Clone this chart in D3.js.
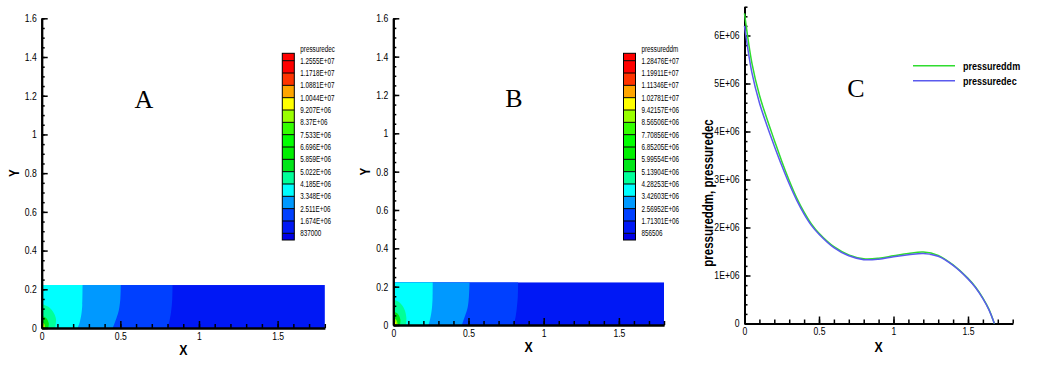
<!DOCTYPE html>
<html lang="en">
<head>
<meta charset="UTF-8">
<title>Pressure contours and profiles</title>
<style>
  body { margin: 0; background: #fff; }
  svg text { font-family: "Liberation Sans", Arial, sans-serif; fill: #000; }
  .axis path { stroke: #000; stroke-width: 2; fill: none; }
  .axis line { stroke: #000; stroke-width: 1.5; }
  .axis text { font-size: 10.5px; }
  .title { font-weight: bold; }
  .letter { font-family: "Liberation Serif", "DejaVu Serif", serif !important; font-size: 26px; }
  .legend text { font-size: 8.5px; }
  .curve { fill: none; stroke-width: 1.5; }
</style>
<script src="https://d3js.org/d3.v7.min.js"></script>
</head>
<body>
<script>
// ---- data ----
const levelsDec = ["1.2555E+07", "1.1718E+07", "1.0881E+07", "1.0044E+07", "9.207E+06", "8.37E+06",
  "7.533E+06", "6.696E+06", "5.859E+06", "5.022E+06", "4.185E+06", "3.348E+06", "2.511E+06",
  "1.674E+06", "837000"];
const levelsDdm = ["1.28476E+07", "1.19911E+07", "1.11346E+07", "1.02781E+07", "9.42157E+06",
  "8.56506E+06", "7.70856E+06", "6.85205E+06", "5.99554E+06", "5.13904E+06", "4.28253E+06",
  "3.42603E+06", "2.56952E+06", "1.71301E+06", "856506"];
// one colour per band, top (highest) to bottom
const bandColors = ["#ff0000", "#ff0000", "#ff3300", "#ffa500", "#ffff00", "#99ff00", "#33ff00",
  "#00ff00", "#00f000", "#00e619", "#00ff99", "#00ffff", "#0099ff", "#0040ff", "#0018f5", "#0000e6"];

// contour boundaries, [x, y] in plot units
const contoursA = [
  { band: 13, pts: [[0.832, 0.222], [0.83, 0.15], [0.822, 0.08], [0.81, 0.03], [0.796, 0]] },
  { band: 12, pts: [[0.503, 0.222], [0.5, 0.15], [0.49, 0.09], [0.475, 0.05], [0.452, 0]] },
  { band: 11, pts: [[0.26, 0.222], [0.258, 0.12], [0.252, 0.07], [0.24, 0.025], [0.228, 0]] },
  { band: 10, pts: [[0, 0.124], [0.045, 0.108], [0.075, 0.08], [0.091, 0.045], [0.085, 0]] },
  { band: 9, pts: [[0, 0.062], [0.028, 0.052], [0.045, 0.024], [0.042, 0]] },
  { band: 5, pts: [[0, 0.03], [0.016, 0.022], [0.022, 0]] },
  { band: 4, pts: [[0, 0.02], [0.012, 0.014], [0.015, 0]] },
  { band: 1, pts: [[0, 0.008], [0.006, 0.005], [0.007, 0]] }
];
const contoursB = [
  { band: 13, pts: [[0.83, 0.222], [0.828, 0.15], [0.82, 0.08], [0.81, 0.03], [0.8, 0]] },
  { band: 12, pts: [[0.507, 0.222], [0.503, 0.15], [0.494, 0.09], [0.478, 0.05], [0.456, 0]] },
  { band: 11, pts: [[0.262, 0.222], [0.26, 0.12], [0.254, 0.07], [0.243, 0.025], [0.233, 0]] },
  { band: 10, pts: [[0, 0.134], [0.045, 0.115], [0.075, 0.08], [0.087, 0.036], [0.083, 0]] },
  { band: 9, pts: [[0, 0.07], [0.03, 0.058], [0.047, 0.03], [0.045, 0]] },
  { band: 5, pts: [[0, 0.035], [0.02, 0.026], [0.03, 0]] },
  { band: 4, pts: [[0, 0.022], [0.014, 0.016], [0.018, 0]] },
  { band: 1, pts: [[0, 0.008], [0.006, 0.005], [0.007, 0]] }
];

// pressure along X (panel C)
const profileX = [0, 0.05, 0.1, 0.15, 0.2, 0.25, 0.3, 0.35, 0.4, 0.45, 0.5, 0.6, 0.7, 0.8, 0.9,
  1.0, 1.1, 1.2, 1.3, 1.4, 1.5, 1.55, 1.6, 1.64, 1.677];
const pressureDdm = [6.46e6, 5.42e6, 4.76e6, 4.27e6, 3.82e6, 3.38e6, 2.98e6, 2.62e6, 2.32e6, 2.07e6,
  1.88e6, 1.60e6, 1.43e6, 1.35e6, 1.36e6, 1.41e6, 1.46e6, 1.49e6, 1.42e6, 1.22e6, 0.94e6, 0.76e6,
  0.53e6, 0.3e6, 0];
const pressureDec = [6.2e6, 5.22e6, 4.6e6, 4.13e6, 3.7e6, 3.29e6, 2.91e6, 2.57e6, 2.28e6, 2.04e6,
  1.86e6, 1.58e6, 1.41e6, 1.33e6, 1.34e6, 1.39e6, 1.43e6, 1.46e6, 1.4e6, 1.21e6, 0.93e6, 0.75e6,
  0.52e6, 0.29e6, 0];

const xTicks = [0, 0.5, 1, 1.5];
const yTicks = [0, 0.2, 0.4, 0.6, 0.8, 1, 1.2, 1.4, 1.6];
const pTicks = [0, 1e6, 2e6, 3e6, 4e6, 5e6, 6e6];

// ---- drawing ----
const svg = d3.select("body").append("svg")
  .attr("width", 1048)
  .attr("height", 373);

function drawAxes(g, x, y, opt) {
  const xMinor = d3.range(0, 19).map(d => d / 10);
  g.append("g").attr("class", "axis")
    .attr("transform", `translate(0,${y.range()[0]})`)
    .call(d3.axisBottom(x).tickValues(xMinor).tickSize(-4).tickSizeOuter(0).tickFormat(""));
  g.append("g").attr("class", "axis")
    .attr("transform", `translate(0,${y.range()[0]})`)
    .call(d3.axisBottom(x).tickValues(xTicks).tickSize(-7).tickSizeOuter(0)
      .tickPadding(opt.xPad).tickFormat(d3.format("~g")));

  g.append("g").attr("class", "axis")
    .attr("transform", `translate(${x.range()[0]},0)`)
    .call(d3.axisLeft(y).tickValues(opt.yMinor).tickSize(-3).tickSizeOuter(0).tickFormat(""));
  g.append("g").attr("class", "axis")
    .attr("transform", `translate(${x.range()[0]},0)`)
    .call(d3.axisLeft(y).tickValues(opt.yMajor).tickSize(-6).tickSizeOuter(0)
      .tickPadding(5).tickFormat(opt.yFormat));
}

function contourPanel(p) {
  const g = svg.append("g");
  const x = d3.scaleLinear().domain([0, 1.8]).range([p.left, p.right]);
  const y = d3.scaleLinear().domain([0, 1.6]).range([p.bottom, p.y16]);

  // domain rectangle filled with the lowest visible band
  g.append("rect")
    .attr("x", x(0)).attr("y", y(0.222))
    .attr("width", x(1.8) - x(0)).attr("height", y(0) - y(0.222))
    .attr("fill", bandColors[14]);

  const curve = d3.line().x(d => x(d[0])).y(d => y(d[1])).curve(d3.curveCatmullRom);
  p.contours.forEach(c => {
    let path = curve(c.pts);
    if (c.pts[0][0] === 0) path += `L${x(0)},${y(0)}Z`;
    else path += `L${x(0)},${y(0)}L${x(0)},${y(0.222)}Z`;
    g.append("path").attr("d", path).attr("fill", bandColors[c.band]);
  });

  drawAxes(g, x, y, {
    xPad: 5,
    yMinor: d3.range(0, 33).map(d => d * 0.05),
    yMajor: yTicks, yFormat: d3.format("~g")
  });

  g.append("text").attr("class", "title")
    .attr("x", (x(0) + x(1.8)) / 2).attr("y", p.bottom + 27)
    .attr("text-anchor", "middle").style("font-size", "15px").text("X");
  g.append("text").attr("class", "title")
    .attr("transform", `translate(${p.left - 28},${(y(0) + y(1.6)) / 2}) rotate(-90)`)
    .attr("text-anchor", "middle").attr("dy", "0.35em").style("font-size", "14px").text("Y");

  g.append("text").attr("class", "letter")
    .attr("x", p.letterX).attr("y", p.letterY)
    .attr("text-anchor", "middle").text(p.letter);

  // colour legend
  const lg = g.append("g").attr("class", "legend");
  const sep = d3.scaleLinear().domain([0, 14]).range([60.7, 233.3]);
  const top = 53.3, bot = 240;
  bandColors.forEach((c, i) => {
    const y0 = i === 0 ? top : sep(i - 1);
    const y1 = i === 15 ? bot : sep(i);
    lg.append("rect").attr("x", p.legX).attr("y", y0)
      .attr("width", 12).attr("height", y1 - y0).attr("fill", c);
  });
  p.levels.forEach((t, i) => {
    lg.append("line").attr("x1", p.legX).attr("x2", p.legX + 12)
      .attr("y1", sep(i)).attr("y2", sep(i)).attr("stroke", "#000").attr("stroke-width", 1);
    lg.append("text").attr("x", p.legX + 18).attr("y", sep(i)).attr("dy", "0.35em").text(t);
  });
  lg.append("rect").attr("x", p.legX).attr("y", top)
    .attr("width", 12).attr("height", bot - top)
    .attr("fill", "none").attr("stroke", "#000").attr("stroke-width", 1);
  lg.append("text").attr("x", p.legX + 18).attr("y", 49.5).attr("dy", "0.35em").text(p.legTitle);
}

contourPanel({
  left: 41.7, right: 324.8, bottom: 328, y16: 18.3,
  contours: contoursA, levels: levelsDec, legTitle: "pressuredec",
  legX: 282.3, letter: "A", letterX: 144, letterY: 108
});
contourPanel({
  left: 393.3, right: 664, bottom: 325, y16: 18.3,
  contours: contoursB, levels: levelsDdm, legTitle: "pressureddm",
  legX: 623.5, letter: "B", letterX: 514, letterY: 107
});

// panel C: pressure profiles
{
  const g = svg.append("g");
  const x = d3.scaleLinear().domain([0, 1.8]).range([744.5, 1012.7]);
  const y = d3.scaleLinear().domain([0, 6.6e6]).range([323.5, 6.7]);

  drawAxes(g, x, y, {
    xPad: 4.5,
    yMinor: d3.range(0, 34).map(d => d * 0.2e6),
    yMajor: pTicks, yFormat: d => d === 0 ? "0" : `${d / 1e6}E+06`
  });

  const line = d3.line().x((d, i) => x(profileX[i])).y(d => y(d)).curve(d3.curveCatmullRom.alpha(0.5));
  g.append("path").attr("class", "curve").attr("stroke", "#2fdc2f").attr("d", line(pressureDdm));
  g.append("path").attr("class", "curve").attr("stroke", "#5a5aee").attr("d", line(pressureDec));

  g.append("text").attr("class", "title")
    .attr("x", (x(0) + x(1.8)) / 2).attr("y", 352)
    .attr("text-anchor", "middle").style("font-size", "15px").text("X");
  g.append("text").attr("class", "title")
    .attr("transform", "translate(708,193) rotate(-90)")
    .attr("text-anchor", "middle").attr("dy", "0.35em").style("font-size", "14px")
    .text("pressureddm, pressuredec");

  g.append("text").attr("class", "letter")
    .attr("x", 856).attr("y", 97).attr("text-anchor", "middle").text("C");

  const series = [
    { name: "pressureddm", color: "#2fdc2f", y: 65.7 },
    { name: "pressuredec", color: "#5a5aee", y: 80.7 }
  ];
  series.forEach(s => {
    g.append("line").attr("x1", 913).attr("x2", 955).attr("y1", s.y).attr("y2", s.y)
      .attr("stroke", s.color).attr("stroke-width", 1.5);
    g.append("text").attr("class", "title").attr("x", 963).attr("y", s.y)
      .attr("dy", "0.35em").style("font-size", "11px").text(s.name);
  });
}

// the original uses a narrow sans face: squeeze the Arial-metric text horizontally
svg.selectAll("text:not(.letter)").each(function () {
  const f = this.closest(".legend") ? 0.74 : 0.82;
  d3.select(this)
    .attr("textLength", this.getComputedTextLength() * f)
    .attr("lengthAdjust", "spacingAndGlyphs");
});
</script>
</body>
</html>
